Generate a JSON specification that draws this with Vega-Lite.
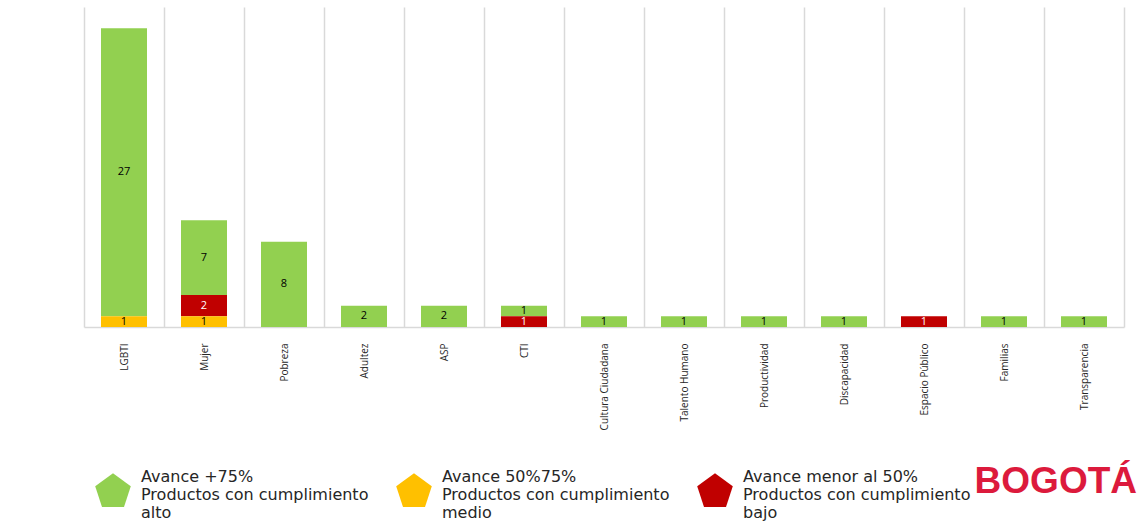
{
  "$schema": "https://vega.github.io/schema/vega-lite/v6.json",
  "width": 1040,
  "height": 320,
  "padding": {"left": 79, "top": 7, "right": 0, "bottom": 0},
  "background": "white",
  "config": {"view": {"stroke": null}, "font": "Open Sans"},
  "title": {"text": "BOGOTÁ", "orient": "bottom", "anchor": "end", "color": "#dc1a3c", "fontSize": 37, "font": "Liberation Sans", "fontWeight": "bold", "dx": 13, "dy": -61},
  "data": {"values": [
    {"eje": "LGBTI", "nivel": "alto", "valor": 27},
    {"eje": "LGBTI", "nivel": "medio", "valor": 1},
    {"eje": "Mujer", "nivel": "alto", "valor": 7},
    {"eje": "Mujer", "nivel": "bajo", "valor": 2},
    {"eje": "Mujer", "nivel": "medio", "valor": 1},
    {"eje": "Pobreza", "nivel": "alto", "valor": 8},
    {"eje": "Adultez", "nivel": "alto", "valor": 2},
    {"eje": "ASP", "nivel": "alto", "valor": 2},
    {"eje": "CTI", "nivel": "alto", "valor": 1},
    {"eje": "CTI", "nivel": "bajo", "valor": 1},
    {"eje": "Cultura Ciudadana", "nivel": "alto", "valor": 1},
    {"eje": "Talento Humano", "nivel": "alto", "valor": 1},
    {"eje": "Productividad", "nivel": "alto", "valor": 1},
    {"eje": "Discapacidad", "nivel": "alto", "valor": 1},
    {"eje": "Espacio Público", "nivel": "bajo", "valor": 1},
    {"eje": "Familias", "nivel": "alto", "valor": 1},
    {"eje": "Transparencia", "nivel": "alto", "valor": 1}
  ]},
  "encoding": {
    "x": {
      "field": "eje", "type": "nominal",
      "scale": {"domain": ["LGBTI", "Mujer", "Pobreza", "Adultez", "ASP", "CTI", "Cultura Ciudadana", "Talento Humano", "Productividad", "Discapacidad", "Espacio Público", "Familias", "Transparencia"], "paddingInner": 0, "paddingOuter": 0},
      "axis": {"title": null, "labelAngle": -90, "labelFontSize": 10, "labelColor": "#262626", "labelPadding": 16, "ticks": false, "grid": true, "tickBand": "extent", "gridColor": "#d9d9d9", "gridWidth": 1.5, "domainColor": "#d9d9d9", "domainWidth": 1.5}
    }
  },
  "layer": [
    {
      "mark": {"type": "bar", "width": {"band": 0.575}},
      "encoding": {
        "y": {"field": "valor", "type": "quantitative", "stack": "zero", "scale": {"domain": [0, 30]}, "axis": null},
        "order": {"field": "nivel", "sort": "descending"},
        "color": {
          "field": "nivel", "type": "nominal",
          "scale": {"domain": ["alto", "medio", "bajo"], "range": ["#92d050", "#ffc000", "#c00000"]},
          "legend": {
            "orient": "none", "legendX": 10, "legendY": 451, "direction": "horizontal", "columns": 3, "title": null,
            "symbolType": "M0,-0.2L0.951,0.491L0.588,1.609L-0.588,1.609L-0.951,0.491Z",
            "symbolSize": 1400, "symbolStrokeWidth": 0, "symbolOpacity": 1,
            "labelFontSize": 16, "labelFont": "DejaVu Sans", "labelColor": "#262626", "labelLimit": 400, "labelOffset": 9, "columnPadding": 26,
            "labelExpr": "datum.value == 'alto' ? ['Avance +75%', 'Productos con cumplimiento', 'alto'] : datum.value == 'medio' ? ['Avance 50%75%', 'Productos con cumplimiento', 'medio'] : ['Avance menor al 50%', 'Productos con cumplimiento', 'bajo']"
          }
        }
      }
    },
    {
      "transform": [
        {"stack": "valor", "groupby": ["eje"], "sort": [{"field": "nivel", "order": "descending"}], "as": ["y0", "y1"]},
        {"fold": ["y0", "y1"], "as": ["extremo", "pos"]}
      ],
      "mark": {"type": "text", "fontSize": 11, "baseline": "middle"},
      "encoding": {
        "y": {"aggregate": "mean", "field": "pos", "type": "quantitative"},
        "detail": {"field": "nivel"},
        "text": {"field": "valor", "type": "quantitative"},
        "color": {"condition": {"test": "datum.nivel === 'bajo'", "value": "white"}, "value": "black"}
      }
    }
  ]
}
